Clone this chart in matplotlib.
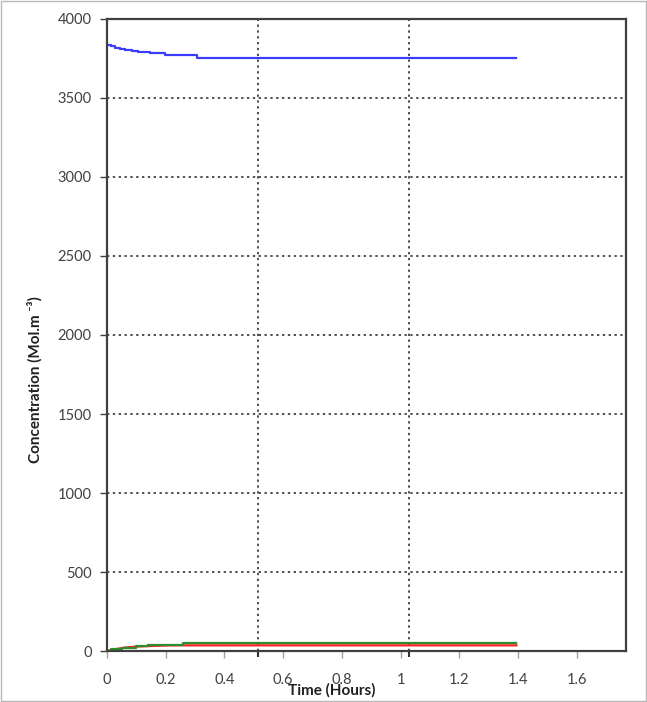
import matplotlib
matplotlib.use("Agg")
import matplotlib.pyplot as plt
from matplotlib.patches import Rectangle

# species concentration vs time (hours)
blue_t = [0, 0.012, 0.028, 0.045, 0.062, 0.085, 0.107, 0.147, 0.199, 0.306, 1.395]
blue_c = [3835, 3826, 3815, 3809, 3804, 3798, 3792, 3783, 3772, 3755, 3755]

green_t = [0, 0.015, 0.05, 0.10, 0.14, 0.26, 1.395]
green_c = [2, 12, 22, 32, 40, 48, 48]

red_t = [0, 0.03, 0.06, 0.10, 0.15, 0.22, 1.395]
red_c = [0, 12, 22, 28, 32, 36, 36]

x_ticks = [0, 0.2, 0.4, 0.6, 0.8, 1.0, 1.2, 1.4, 1.6]
x_tick_labels = ["0", "0.2", "0.4", "0.6", "0.8", "1", "1.2", "1.4", "1.6"]
y_ticks = [0, 500, 1000, 1500, 2000, 2500, 3000, 3500, 4000]
x_grid = [0.513, 1.030]

plt.rcParams['font.family'] = ['Lato', 'DejaVu Sans']

fig = plt.figure(figsize=(6.47, 7.02), dpi=100)
ax = fig.add_axes([0.1654, 0.0726, 0.802, 0.9004])

ax.plot(blue_t, blue_c, color='#3c3cff', lw=1.6, drawstyle='steps-post')
ax.plot(red_t, red_c, color='#ff2020', lw=1.6)
ax.plot(green_t, green_c, color='#2e8b2e', lw=1.6, drawstyle='steps-post')

ax.set_xlim(0, 1.768)
ax.set_ylim(0, 4000)
ax.set_xticks(x_ticks)
ax.set_xticklabels(x_tick_labels)
ax.set_yticks(y_ticks)
ax.set_xticks(x_grid, minor=True)

ax.tick_params(axis='x', which='major', length=5, width=1, color='#a0a0a0',
               labelsize=10.5, labelcolor='#404040', pad=11)
ax.tick_params(axis='x', which='minor', length=4, width=1.5, color='#303030')
ax.tick_params(axis='y', length=5, width=1, color='#404040',
               labelsize=10.5, labelcolor='#404040', pad=6)

ax.yaxis.grid(True, linestyle=(0, (1.2, 1.8)), color='#505050', lw=1.4)
ax.xaxis.grid(True, which='minor', linestyle=(0, (1.2, 1.8)), color='#505050', lw=1.4)

for s in ax.spines.values():
    s.set_color('#404040')
    s.set_linewidth(1.6)

fig.text(0.513, 0.016, 'Time (Hours)', ha='center', va='center',
         fontsize=11, fontweight='bold', color='#202020')
fig.text(0.054, 0.46, 'Concentration (Mol.m \u207b\u00b3)', ha='center', va='center',
         rotation=90, fontsize=11, fontweight='bold', color='#202020')

fig.patches.append(Rectangle((0.002, 0.002), 0.996, 0.996, transform=fig.transFigure,
                             fill=False, edgecolor='#b8b8b8', lw=1))

fig.savefig('out.png', dpi=100)
